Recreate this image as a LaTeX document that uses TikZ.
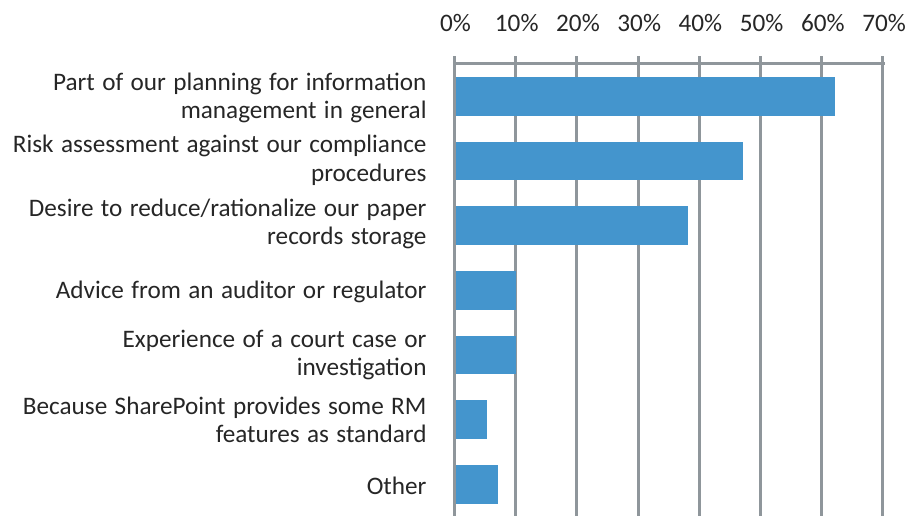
\documentclass[tikz,border=0pt]{standalone}
\usepackage{fontspec}
\setmainfont{Carlito}[WordSpace=1.3]
\usepackage{tikz}
\usetikzlibrary{positioning}
\definecolor{barblue}{HTML}{4495CD}
\definecolor{gridgray}{HTML}{8F969B}
\definecolor{textgray}{HTML}{262626}
\tikzset{
  every picture/.style={line width=1.5pt},
  gridline/.style={draw=gridgray, line width=1.5pt},
  barfill/.style={fill=barblue},
  catlabel/.style={anchor=east, align=right, inner sep=0pt, text=textgray, font=\fontsize{12.6}{14.3}\selectfont},
  pctlabel/.style={anchor=base, inner sep=0pt, text=textgray, font=\fontsize{12.6}{14.3}\selectfont}
}

\begin{document}
\begin{tikzpicture}[x=0.5pt, y=-0.5pt]
    \useasboundingbox (0,0) rectangle (909,516);
    % grid and top axis
    \foreach \v in {0,10,...,70} {
      \draw[gridline] ({454.3+6.124*\v},56) -- ({454.3+6.124*\v},516);
      \node[pctlabel] (p\v) at ({455.5+6.124*\v},31.7) {\v\%};
    }
    \draw[gridline] (452.8,63.5) -- (884.5,63.5);

    % bars
    \foreach \r/\val in {1/62.2, 2/47.1, 3/38.2, 4/10, 5/10, 6/5.3, 7/7.2} {
      \fill[barfill] (456,{96.2+64.72*(\r-1)-19.4}) rectangle ({454.3+6.124*\val},{96.2+64.72*(\r-1)+19.4});
    }

    % category labels
    \node[catlabel] (c1) at (428,98) {Part of our planning for information\\management in general};
    \node[catlabel] (c2) at (428,160) {Risk assessment against our compliance\\procedures};
    \node[catlabel] (c3) at (428,224) {Desire to reduce/rationalize our paper\\records storage};
    \node[catlabel] (c4) at (428,291.5) {Advice from an auditor or regulator};
    \node[catlabel] (c5) at (428,355) {Experience of a court case or\\investigation};
    \node[catlabel] (c6) at (428,420) {Because SharePoint provides some RM\\features as standard};
    \node[catlabel] (c7) at (428,485.5) {Other};
\end{tikzpicture}
\end{document}
